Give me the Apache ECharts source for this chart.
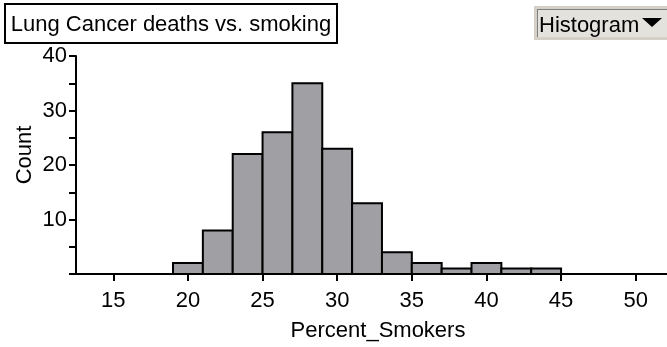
<!DOCTYPE html>
<html><head><meta charset="utf-8">
<script src="https://cdn.jsdelivr.net/npm/echarts@6/dist/echarts.min.js"></script>
<style>html,body{margin:0;padding:0;background:#fff}#c{width:667px;height:347px}</style>
</head><body><div id="c"></div>
<script>
const binStarts = [19, 21, 23, 25, 27, 29, 31, 33, 35, 37, 39, 41, 43];
const binEnds   = [21, 23, 25, 27, 29, 31, 33, 35, 37, 39, 41, 43, 45];
const counts    = [2, 8, 22, 26, 35, 23, 13, 4, 2, 1, 2, 1, 1];
const xTicks = [15, 20, 25, 30, 35, 40, 45, 50];
const yLabels = [10, 20, 30, 40];
const titleText = 'Lung Cancer deaths vs. smoking';
const xName = 'Percent_Smokers';
const yName = 'Count';
const buttonText = 'Histogram';

const FONT = '"Liberation Sans", Arial, sans-serif';
const data = binStarts.map((s, i) => [s, binEnds[i], counts[i]]);

const chart = echarts.init(document.getElementById('c'), null, {renderer: 'canvas'});
chart.setOption({
  animation: false,
  backgroundColor: '#fff',
  grid: {left: 76, top: 56, width: 597, height: 218, containLabel: false, outerBoundsMode: 'none'},
  xAxis: {
    type: 'value', min: 12.5, max: 52.5,
    name: xName, nameLocation: 'middle', nameGap: 46,
    nameTextStyle: {fontFamily: FONT, fontSize: 22, color: '#000', padding: [0, 0, 0, 7]},
    axisLine: {show: true, onZero: false, lineStyle: {color: '#000', width: 2}},
    axisTick: {show: true, customValues: xTicks, length: 7, lineStyle: {color: '#000', width: 2}},
    axisLabel: {customValues: xTicks, margin: 16, fontFamily: FONT, fontSize: 22, color: '#000'},
    splitLine: {show: false}
  },
  yAxis: {
    type: 'value', min: 0, max: 40, interval: 5,
    name: yName, nameLocation: 'middle', nameGap: 40, nameRotate: 90, nameMoveOverlap: false,
    nameTextStyle: {fontFamily: FONT, fontSize: 22, color: '#000', padding: [0, 0, 0, 20]},
    axisLine: {show: true, lineStyle: {color: '#000', width: 2}},
    axisTick: {show: true, length: 7, lineStyle: {color: '#000', width: 2}},
    axisLabel: {
      margin: 9, fontFamily: FONT, fontSize: 22, color: '#000',
      formatter: v => (yLabels.indexOf(v) >= 0 ? String(v) : '')
    },
    splitLine: {show: false}
  },
  series: [{
    type: 'custom',
    data: data,
    encode: {x: [0, 1], y: 2},
    renderItem: function (params, api) {
      const p0 = api.coord([api.value(0), api.value(2)]);
      const p1 = api.coord([api.value(1), 0]);
      return {
        type: 'rect',
        shape: {x: p0[0], y: p0[1], width: p1[0] - p0[0], height: p1[1] - p0[1]},
        style: {fill: '#a0a0a4', stroke: '#000', lineWidth: 2}
      };
    }
  }],
  graphic: [
    {type: 'rect', shape: {x: 5, y: 4, width: 332, height: 39}, style: {fill: '#fff', stroke: '#000', lineWidth: 2}, z: 10},
    {type: 'text', x: 171, y: 25, style: {text: titleText, font: '22px ' + FONT, fill: '#000', align: 'center', verticalAlign: 'middle'}, z: 11},
    {type: 'rect', shape: {x: 534, y: 6, width: 140, height: 34}, style: {fill: '#d4d0c8'}, z: 10},
    {type: 'rect', shape: {x: 537, y: 9, width: 135, height: 28}, style: {fill: '#e4e2dc'}, z: 11},
    {type: 'line', shape: {x1: 537, y1: 9.5, x2: 672, y2: 9.5}, style: {stroke: '#808080', lineWidth: 1}, z: 12},
    {type: 'line', shape: {x1: 537.5, y1: 9, x2: 537.5, y2: 37}, style: {stroke: '#808080', lineWidth: 1}, z: 12},
    {type: 'text', x: 539, y: 26, style: {text: buttonText, font: '22px ' + FONT, fill: '#000', align: 'left', verticalAlign: 'middle'}, z: 13},
    {type: 'polygon', shape: {points: [[642, 18], [662, 18], [652, 27]]}, style: {fill: '#000'}, z: 13}
  ]
});
</script></body></html>
